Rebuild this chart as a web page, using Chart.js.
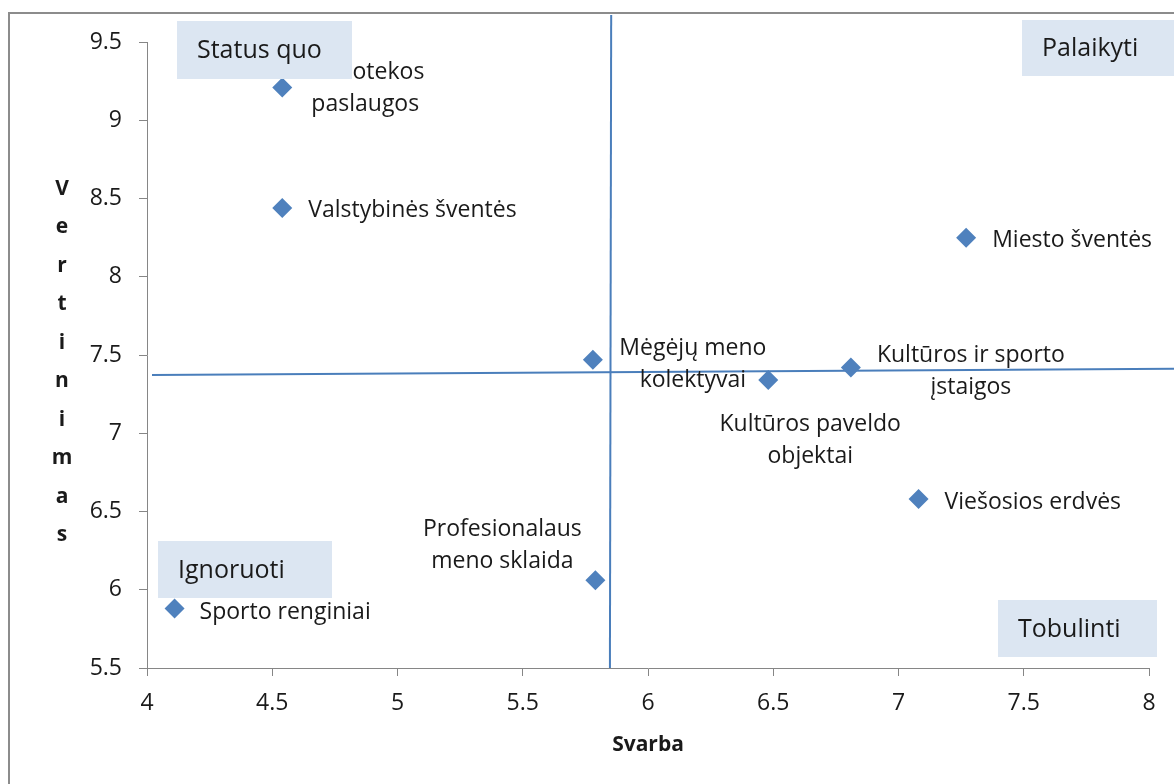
<!DOCTYPE html>
<html lang="lt">
<head>
<meta charset="UTF-8" />
<title>Svarba ir vertinimas</title>
<script src="https://cdn.jsdelivr.net/npm/chart.js@4.4.1/dist/chart.umd.min.js"></script>
<style>
  html,body{margin:0;padding:0;background:#fff;overflow:hidden}
  #frame{position:absolute;left:8px;top:12px;width:1400px;height:1000px;border-left:2px solid #8c8c8c;border-top:2px solid #8c8c8c}
  #chart{position:absolute;left:0;top:0}
</style>
</head>
<body>
<div id="frame"></div>
<canvas id="chart" width="1174" height="784"></canvas>
<script>
// data
const categories = [
  'Bibliotekos\npaslaugos',
  'Valstybinės šventės',
  'Miesto šventės',
  'Mėgėjų meno\nkolektyvai',
  'Kultūros ir sporto\nįstaigos',
  'Kultūros paveldo\nobjektai',
  'Viešosios erdvės',
  'Profesionalaus\nmeno sklaida',
  'Sporto renginiai'
];
const svarba     = [4.54, 4.54, 7.27, 5.78, 6.81, 6.48, 7.08, 5.79, 4.11];
const vertinimas = [9.21, 8.44, 8.25, 7.47, 7.42, 7.34, 6.58, 6.06, 5.88];
const xTicks = [4, 4.5, 5, 5.5, 6, 6.5, 7, 7.5, 8];
const yTicks = [5.5, 6, 6.5, 7, 7.5, 8, 8.5, 9, 9.5];
const quadrantNames = ['Status quo', 'Palaikyti', 'Ignoruoti', 'Tobulinti'];
// quadrant dividers (hand-drawn lines in the original)
const vDividerX = [5.853, 5.848];
const vDividerY = [9.672, 5.5];
const hDividerX = [4.02, 8.1];
const hDividerY = [7.372, 7.412];

const FONT = "'Open Sans', sans-serif";
const TEXT = '#1a1a1a';
const AXIS = '#868686';
const BLUE = '#4f81bd';

// where each point label sits relative to its marker
const labelPlacement = [
  {dx: 83, dy: 1, align: 'center'},
  {dx: 26, dy: 3, align: 'left'},
  {dx: 26, dy: 3, align: 'left'},
  {dx: 100, dy: 5, align: 'center'},
  {dx: 120, dy: 4, align: 'center'},
  {dx: 42, dy: 60, align: 'center'},
  {dx: 26, dy: 3, align: 'left'},
  {dx: -93, dy: -35, align: 'center'},
  {dx: 25, dy: 4, align: 'left'}
];
const quadrantBoxes = [
  {x: 177, y: 21, w: 175, h: 58},
  {x: 1022, y: 20, w: 160, h: 56},
  {x: 158, y: 541, w: 174, h: 57},
  {x: 998, y: 600, w: 159, h: 57}
];

const annotations = {
  id: 'annotations',
  afterDatasetsDraw(chart) {
    const ctx = chart.ctx, xs = chart.scales.x, ys = chart.scales.y;
    ctx.save();
    ctx.fillStyle = TEXT;
    ctx.font = '23px ' + FONT;
    ctx.textBaseline = 'middle';
    categories.forEach((name, i) => {
      const p = labelPlacement[i];
      const px = xs.getPixelForValue(svarba[i]) + p.dx;
      const py = ys.getPixelForValue(vertinimas[i]) + p.dy;
      const lines = name.split('\n');
      ctx.textAlign = p.align;
      lines.forEach((ln, k) => ctx.fillText(ln, px, py + (k - (lines.length - 1) / 2) * 32));
    });
    ctx.font = '25px ' + FONT;
    ctx.textAlign = 'left';
    quadrantNames.forEach((name, i) => {
      const b = quadrantBoxes[i];
      ctx.fillStyle = '#dce6f2';
      ctx.fillRect(b.x, b.y, b.w, b.h);
      ctx.fillStyle = TEXT;
      ctx.fillText(name, b.x + 20, b.y + b.h / 2 + 1);
    });
    // stacked y axis title
    ctx.font = 'bold 21px ' + FONT;
    ctx.textAlign = 'center';
    'Vertinimas'.split('').forEach((ch, k) => ctx.fillText(ch, 62, 189 + k * 38.5));
    ctx.restore();
  }
};

new Chart(document.getElementById('chart'), {
  type: 'scatter',
  data: {
    datasets: [
      {
        data: svarba.map((v, i) => ({x: v, y: vertinimas[i]})),
        pointStyle: 'rectRot', pointRadius: 10, pointHoverRadius: 10,
        backgroundColor: BLUE, borderColor: BLUE, borderWidth: 0, order: 0
      },
      {
        type: 'line', data: vDividerX.map((v, i) => ({x: v, y: vDividerY[i]})),
        borderColor: '#4a7ebb', borderWidth: 2, pointRadius: 0, clip: false, order: 1
      },
      {
        type: 'line', data: hDividerX.map((v, i) => ({x: v, y: hDividerY[i]})),
        borderColor: '#4a7ebb', borderWidth: 2, pointRadius: 0, clip: false, order: 2
      }
    ]
  },
  options: {
    responsive: false,
    animation: false,
    layout: {padding: {left: 0, right: 25, top: 42, bottom: 0}},
    plugins: {legend: {display: false}, tooltip: {enabled: false}},
    scales: {
      x: {
        type: 'linear', min: 4, max: 8,
        afterBuildTicks: s => { s.ticks = xTicks.map(v => ({value: v})); },
        afterFit: s => { s.height = 116; },
        grid: {drawOnChartArea: false, drawTicks: true, tickLength: 8, color: AXIS},
        border: {color: AXIS, width: 1},
        ticks: {color: TEXT, font: {family: FONT, size: 23}, padding: 14, maxRotation: 0, callback: v => String(v)},
        title: {display: true, text: 'Svarba', color: TEXT, font: {family: FONT, size: 21, weight: 'bold'}, padding: {top: 0, bottom: 26}}
      },
      y: {
        type: 'linear', min: 5.5, max: 9.5,
        afterBuildTicks: s => { s.ticks = yTicks.map(v => ({value: v})); },
        afterFit: s => { s.width = 147; },
        grid: {drawOnChartArea: false, drawTicks: true, tickLength: 8, color: AXIS},
        border: {color: AXIS, width: 1},
        ticks: {color: TEXT, font: {family: FONT, size: 23}, padding: 17, callback: v => String(v)}
      }
    }
  },
  plugins: [annotations]
});
</script>
</body>
</html>
